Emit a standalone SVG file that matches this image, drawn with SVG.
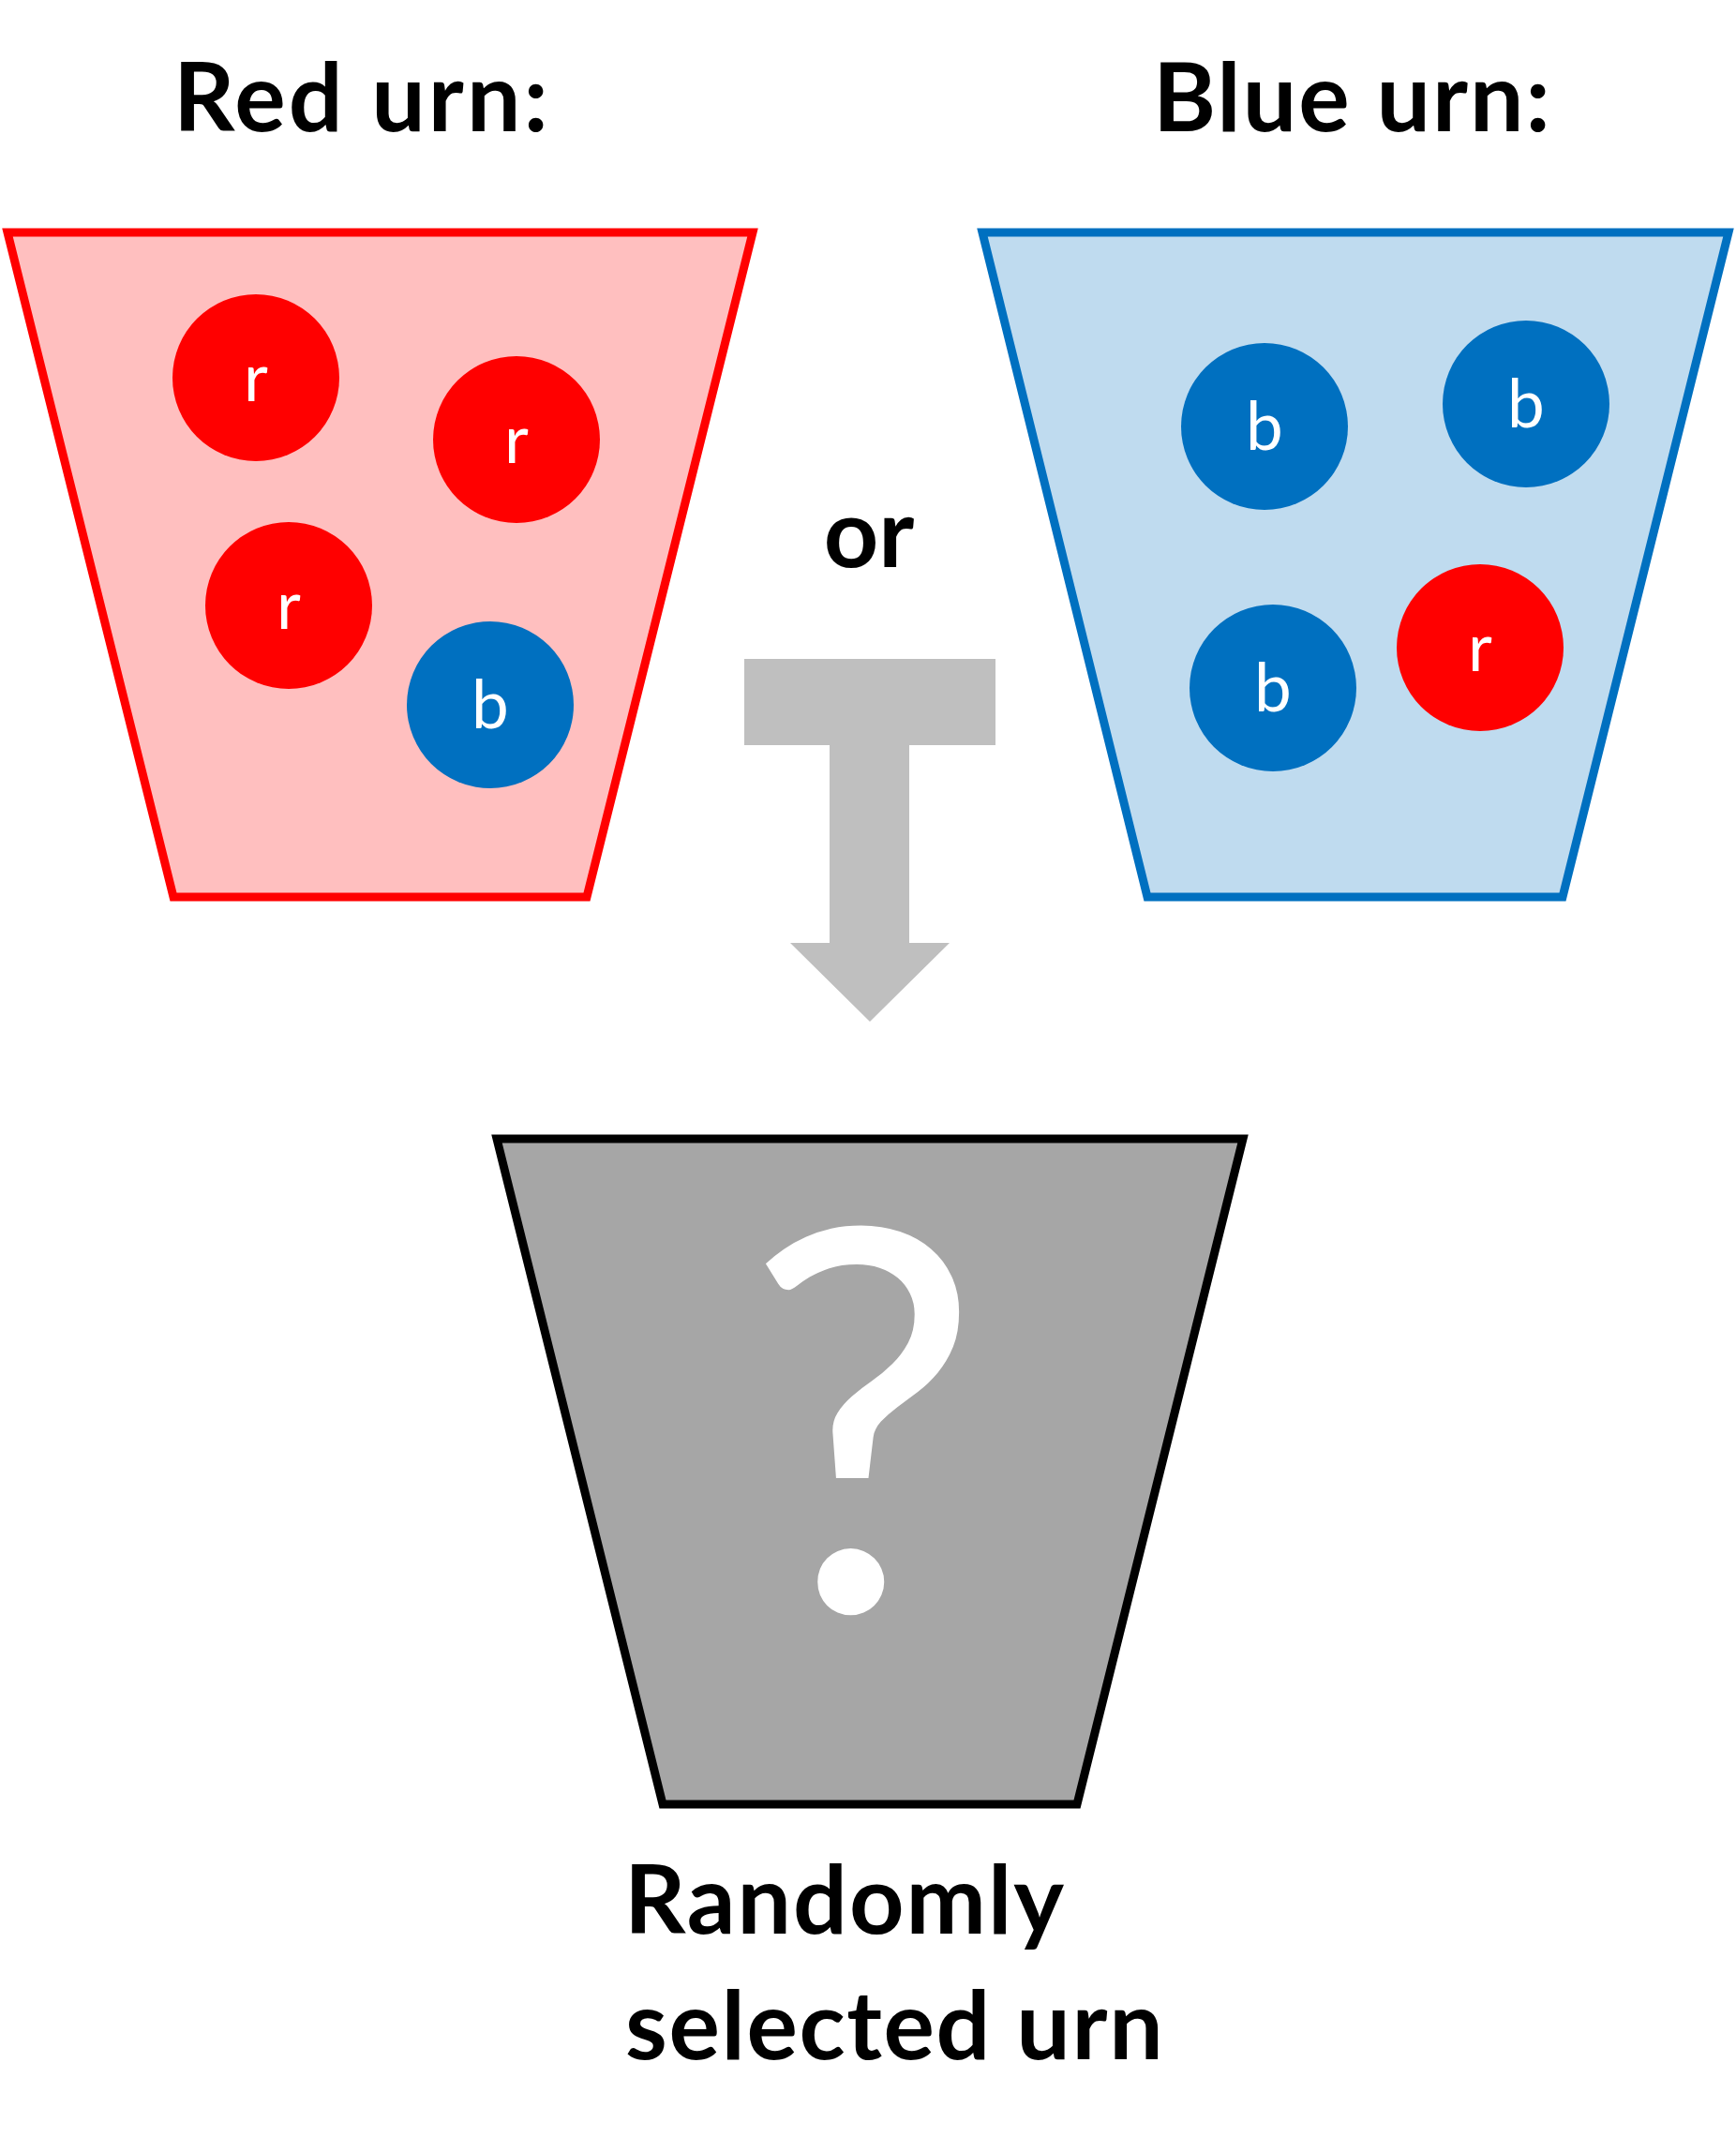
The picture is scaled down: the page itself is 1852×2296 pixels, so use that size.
<svg xmlns="http://www.w3.org/2000/svg" width="1852" height="2296" viewBox="0 0 1852 2296">
<style>
.lbl{font-family:Lato,"Liberation Sans",sans-serif;font-weight:700;font-size:102px;fill:#000}
.bt{font-family:Lato,"Liberation Sans",sans-serif;font-size:71px;fill:#fff;text-anchor:middle}
.rb{fill:#FF0000}
.bb{fill:#0070C0}
.urn{stroke-width:9;stroke-linejoin:miter}
</style>
<rect width="1852" height="2296" fill="#fff"/>
<g id="label-red"><text class="lbl" x="185" y="140" letter-spacing="3">Red urn:</text></g>
<g id="label-blue"><text class="lbl" x="1230" y="140" letter-spacing="2">Blue urn:</text></g>
<g id="red-urn">
<path class="urn" d="M8,248 L803,248 L626,957 L185,957 Z" fill="#FFBFBF" stroke="#FF0000"/>
<circle class="rb" cx="273" cy="403" r="89"/><text class="bt" x="273" y="428">r</text>
<circle class="rb" cx="551" cy="469" r="89"/><text class="bt" x="551" y="494">r</text>
<circle class="rb" cx="308" cy="646" r="89"/><text class="bt" x="308" y="671">r</text>
<circle class="bb" cx="523" cy="752" r="89"/><text class="bt" x="523" y="777">b</text>
</g>
<g id="blue-urn">
<path class="urn" d="M1048,248 L1844,248 L1667,957 L1224,957 Z" fill="#BFDBEF" stroke="#0070C0"/>
<circle class="bb" cx="1349" cy="455" r="89"/><text class="bt" x="1349" y="480">b</text>
<circle class="bb" cx="1628" cy="431" r="89"/><text class="bt" x="1628" y="456">b</text>
<circle class="bb" cx="1358" cy="734" r="89"/><text class="bt" x="1358" y="759">b</text>
<circle class="rb" cx="1579" cy="691" r="89"/><text class="bt" x="1579" y="716">r</text>
</g>
<g id="or-label"><text class="lbl" x="927" y="605" text-anchor="middle">or</text></g>
<g id="connectors">
<path d="M794,703 L1062,703 L1062,795 L970,795 L970,1006 L1013,1006 L928,1090 L843,1006 L885,1006 L885,795 L794,795 Z" fill="#BFBFBF"/>
</g>
<g id="selected-urn">
<path class="urn" d="M530,1215 L1326,1215 L1149,1925 L707,1925 Z" fill="#A6A6A6" stroke="#000"/>
<text x="921" y="1719" font-family="Lato,'Liberation Sans',sans-serif" font-size="568" fill="#fff" text-anchor="middle">?</text>
</g>
<g id="label-selected">
<text class="lbl" x="666" y="2063" letter-spacing="2">Randomly</text>
<text class="lbl" x="667" y="2197" letter-spacing="1.6">selected urn</text>
</g>
</svg>
